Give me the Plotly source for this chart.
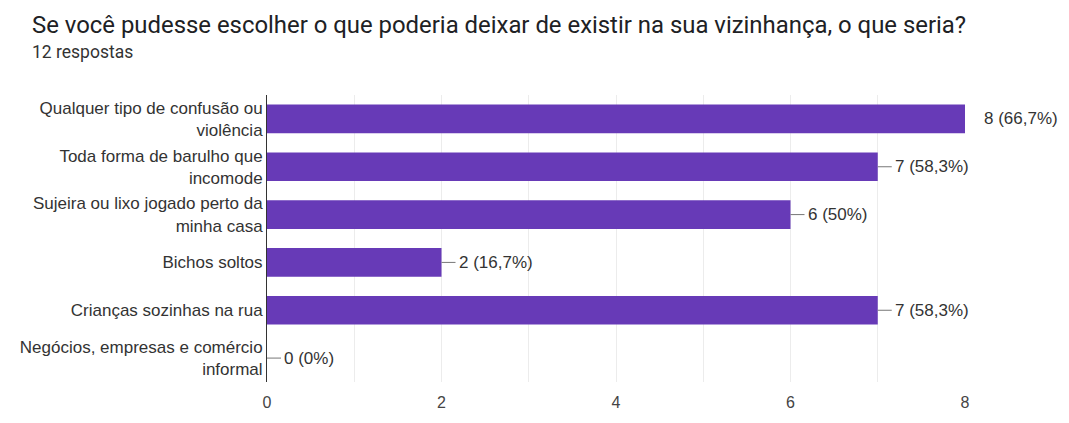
import plotly.graph_objects as go

title = "Se você pudesse escolher o que poderia deixar de existir na sua vizinhança, o que seria?"
subtitle = "12 respostas"
categories = [
    "Qualquer tipo de confusão ou<br>violência",
    "Toda forma de barulho que<br>incomode",
    "Sujeira ou lixo jogado perto da<br>minha casa",
    "Bichos soltos",
    "Crianças sozinhas na rua",
    "Negócios, empresas e comércio<br>informal",
]
counts = [8, 7, 6, 2, 7, 0]
labels = ["8 (66,7%)", "7 (58,3%)", "6 (50%)", "2 (16,7%)", "7 (58,3%)", "0 (0%)"]
x_ticks = [0, 2, 4, 6, 8]

BAR = "#673ab7"
TXT = "#333333"
LFONT = "Liberation Sans"
TFONT = "Roboto"

# page has an 8px body margin; figure is sized/positioned to compensate
W, H = 1061, 415
ML, MR, MT, MB = 257, 104, 87, 28
PW = W - ML - MR
PH = H - MT - MB

fig = go.Figure(go.Bar(
    y=categories, x=counts, orientation="h",
    marker=dict(color=BAR, line=dict(width=0)),
    hoverinfo="skip",
))

max_c = max(counts)
for cat, c, lab in zip(categories, counts, labels):
    if c < max_c:
        fig.add_shape(type="line", xref="x", yref="y", xsizemode="pixel",
                      xanchor=c, x0=0, x1=14, y0=cat, y1=cat,
                      line=dict(color="#777777", width=1))
        shift = 15
    else:
        shift = 17
    fig.add_annotation(x=c, y=cat, xref="x", yref="y", text=lab, showarrow=False,
                       xanchor="left", yanchor="middle", xshift=shift,
                       font=dict(family=LFONT, size=17, color=TXT))

fig.add_annotation(text=title, xref="paper", yref="paper", x=(19 - ML) / PW, y=1 + (MT - 14) / PH,
                   xanchor="left", yanchor="middle", showarrow=False,
                   font=dict(family=TFONT, size=23.9, color="#202124"))
fig.add_annotation(text=subtitle, xref="paper", yref="paper", x=(19 - ML) / PW, y=1 + (MT - 42) / PH,
                   xanchor="left", yanchor="middle", showarrow=False,
                   font=dict(family=TFONT, size=17.5, color="#333333"))

fig.update_layout(
    width=W, height=H,
    margin=dict(l=ML, r=MR, t=MT, b=MB),
    paper_bgcolor="white", plot_bgcolor="white",
    bargap=0.4, showlegend=False,
    font=dict(family=LFONT, size=17, color=TXT),
)
fig.update_xaxes(range=[0, 8], tickvals=x_ticks, ticktext=[str(v) for v in x_ticks],
                 showgrid=True, gridcolor="#ececec", gridwidth=1,
                 minor=dict(dtick=1, showgrid=True, gridcolor="#ececec"),
                 zeroline=False, showline=False, ticks="", ticklabelstandoff=9,
                 tickfont=dict(family=LFONT, size=16, color="#444444"), fixedrange=True)
fig.update_yaxes(categoryorder="array", categoryarray=categories, autorange="reversed",
                 showline=True, linecolor="#333333", linewidth=1, showgrid=False,
                 ticks="", ticklabelstandoff=0,
                 tickfont=dict(family=LFONT, size=17, color=TXT), fixedrange=True)

fig.write_html("out.html")
